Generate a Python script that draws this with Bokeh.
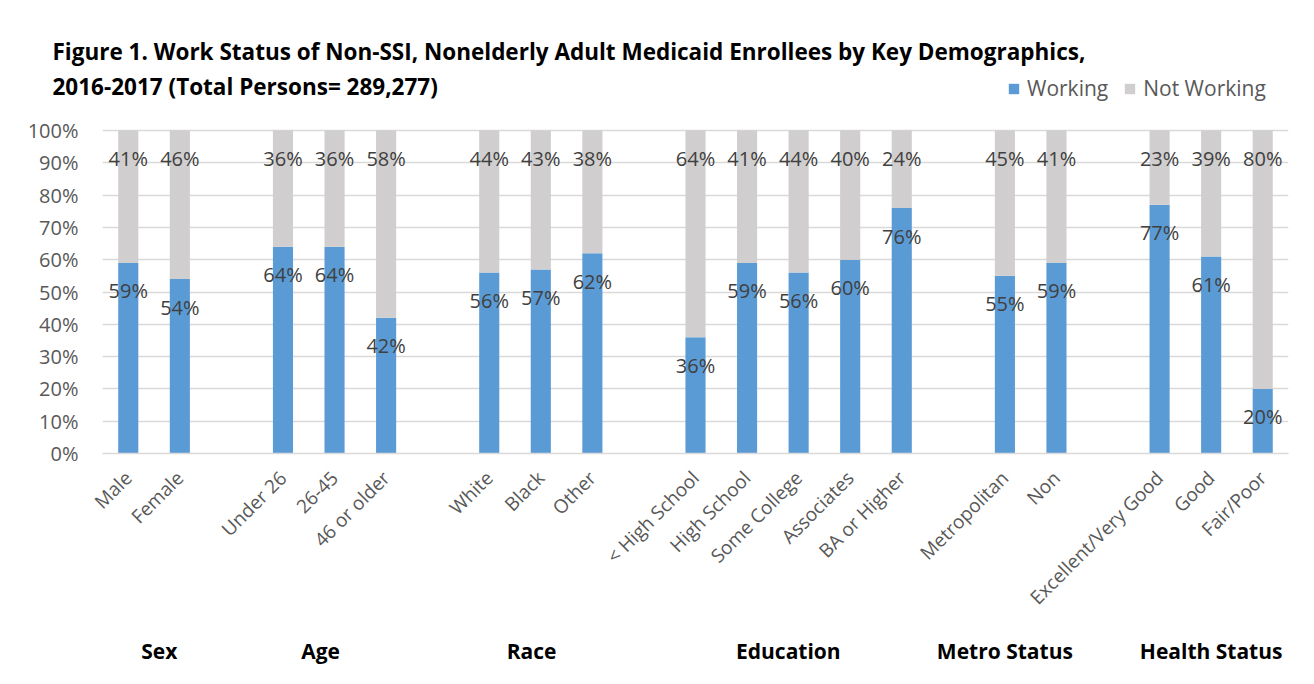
import math
from bokeh.plotting import figure
from bokeh.models import (Range1d, FixedTicker, LinearAxis, PrintfTickFormatter,
                          Legend, LegendItem, ColumnDataSource)
from bokeh.core.properties import value
from bokeh.embed import file_html
from bokeh.resources import INLINE

# ---------------- data ----------------
group_names = ["Sex", "Age", "Race", "Education", "Metro Status", "Health Status"]
group_members = [
    ["Male", "Female"],
    ["Under 26", "26-45", "46 or older"],
    ["White", "Black", "Other"],
    ["< High School", "High School", "Some College", "Associates", "BA or Higher"],
    ["Metropolitan", "Non"],
    ["Excellent/Very Good", "Good", "Fair/Poor"],
]
working = [59, 54, 64, 64, 42, 56, 57, 62, 36, 59, 56, 60, 76, 55, 59, 77, 61, 20]
not_working = [41, 46, 36, 36, 58, 44, 43, 38, 64, 41, 44, 40, 24, 45, 41, 23, 39, 80]
y_ticks = [0, 10, 20, 30, 40, 50, 60, 70, 80, 90, 100]
series_names = ["Working", "Not Working"]
title_text = ("Figure 1. Work Status of Non-SSI, Nonelderly Adult Medicaid Enrollees by Key Demographics,\n"
              "2016-2017 (Total Persons= 289,277)")

# group label positions (slot units, layout only)
group_label_x = [0.6, 3.73, 7.82, 12.8, 17.0, 21.0]

# ---------------- layout ----------------
W, H = 1312, 682
FRAME_L, FRAME_R = 102, 1288
FRAME_T, FRAME_B = 70, 453          # plot area (includes legend row on top)
Y100_PX = 130                        # pixel row where 100% sits
y_top = 100 * (FRAME_B - FRAME_T) / (FRAME_B - Y100_PX)

categories, xpos = [], []
pos = 0
for members in group_members:
    for m in members:
        categories.append(m)
        xpos.append(pos)
        pos += 1
    pos += 1
n_slots = pos - 1

BLUE = "#5B9BD5"
GRAY = "#D0CECE"
FONT = "Open Sans"

src = ColumnDataSource(dict(
    x=xpos, working=working, not_working=not_working,
    top_all=[w + n for w, n in zip(working, not_working)],
    wlab=[f"{v}%" for v in working], nlab=[f"{v}%" for v in not_working],
))

p = figure(width=W, height=H, output_backend="svg", toolbar_location=None,
           x_range=Range1d(-0.5, n_slots - 0.5), y_range=Range1d(0, y_top),
           min_border_left=FRAME_L, min_border_right=W - FRAME_R,
           min_border_top=FRAME_T, min_border_bottom=H - FRAME_B)
p.outline_line_color = None
p.background_fill_color = "white"
p.border_fill_color = "white"

rs = p.vbar_stack(["working", "not_working"], x="x", width=0.39, color=[BLUE, GRAY],
                  line_color=None, source=src)

p.text(x="x", y="working", text="wlab", source=src, text_align="center",
       text_baseline="middle", y_offset=28, text_font=value(FONT),
       text_font_size="20px", text_color="#404040")
p.text(x="x", y="top_all", text="nlab", source=src, text_align="center",
       text_baseline="middle", y_offset=28, text_font=value(FONT),
       text_font_size="20px", text_color="#404040")

# grid
p.xgrid.grid_line_color = None
p.ygrid.ticker = FixedTicker(ticks=y_ticks)
p.ygrid.grid_line_color = "#D9D9D9"
p.ygrid.grid_line_width = 1.3

# y axis
yax = p.yaxis[0]
yax.ticker = FixedTicker(ticks=y_ticks)
yax.formatter = PrintfTickFormatter(format="%d%%")
yax.axis_line_color = None
yax.major_tick_line_color = None
yax.minor_tick_line_color = None
yax.major_label_text_font = FONT
yax.major_label_text_font_size = "20px"
yax.major_label_text_color = "#595959"
yax.major_label_standoff = 18

# x axis (categories)
xax = p.xaxis[0]
xax.ticker = FixedTicker(ticks=xpos)
xax.major_label_overrides = {x: c for x, c in zip(xpos, categories)}
xax.major_label_orientation = math.pi / 4
xax.axis_line_color = "#D9D9D9"
xax.axis_line_width = 1.3
xax.major_tick_line_color = None
xax.minor_tick_line_color = None
xax.major_label_text_font = FONT
xax.major_label_text_font_size = "19px"
xax.major_label_text_color = "#595959"
xax.major_label_standoff = 15

# group label axis
gax = LinearAxis(ticker=FixedTicker(ticks=group_label_x),
                 major_label_overrides={x: g for x, g in zip(group_label_x, group_names)})
gax.axis_line_color = None
gax.major_tick_line_color = None
gax.minor_tick_line_color = None
gax.major_label_text_font = FONT
gax.major_label_text_font_size = "21px"
gax.major_label_text_font_style = "bold"
gax.major_label_text_color = "#000000"
gax.major_label_standoff = 8
p.add_layout(gax, "below")

# title
p.title.text = title_text
p.title.align = "left"
p.title.offset = -50
p.title.text_font = FONT
p.title.text_font_size = "22.5px"
p.title.text_font_style = "bold"
p.title.text_color = "#000000"
p.title.text_line_height = 1.16
p.title.standoff = -64

# legend (inside the plot area, on the title's second row)
legend = Legend(items=[LegendItem(label=series_names[0], renderers=[rs[0]]),
                       LegendItem(label=series_names[1], renderers=[rs[1]])],
                orientation="horizontal", location=(905, FRAME_B - 102))
legend.glyph_width = 13
legend.glyph_height = 13
legend.label_text_font = FONT
legend.label_text_font_size = "21px"
legend.label_text_color = "#595959"
legend.label_standoff = 7
legend.spacing = 15
legend.padding = 0
legend.margin = 0
legend.border_line_color = None
legend.background_fill_alpha = 0
p.add_layout(legend)

open("out.html", "w").write(file_html(p, INLINE))
